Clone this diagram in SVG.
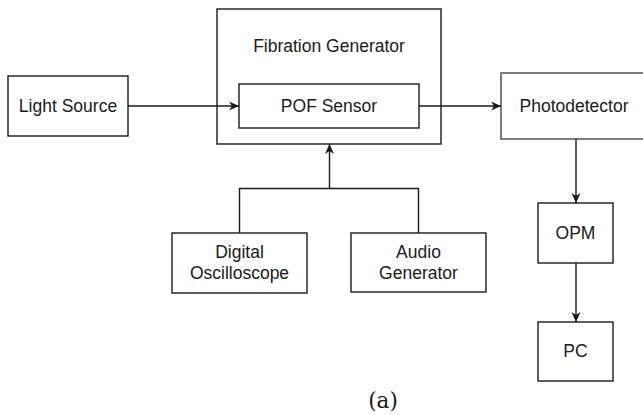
<svg xmlns="http://www.w3.org/2000/svg" width="643" height="415" viewBox="0 0 643 415">
  <style>
    .box { fill: #ffffff; stroke: #1a1a1a; stroke-width: 1.4; }
    .pd { fill: #ffffff; stroke: #6e6e6e; stroke-width: 1.8; }
    .lbl { font-family: "Liberation Sans", Arial, Helvetica, sans-serif; font-size: 17.5px; fill: #1a1a1a; text-anchor: middle; }
    .wire { fill: none; stroke: #1a1a1a; stroke-width: 1.4; }
    .cap { font-family: "DejaVu Serif", "Liberation Serif", serif; font-size: 21.5px; fill: #1a1a1a; text-anchor: middle; }
  </style>
  <defs>
    <marker id="arrow" markerUnits="userSpaceOnUse" markerWidth="12" markerHeight="10" refX="10" refY="4.5" orient="auto">
      <path d="M0,0 L10,4.5 L0,9 L3,4.5 z" fill="#1a1a1a"/>
    </marker>
  </defs>

  <rect width="643" height="415" fill="#ffffff"/>

  <g id="fibration-generator">
    <rect class="box" x="217" y="9" width="224" height="135"/>
    <text class="lbl" x="329" y="52">Fibration Generator</text>
  </g>

  <g id="light-source">
    <rect class="box" x="8" y="76" width="120" height="60"/>
    <text class="lbl" x="68" y="112">Light Source</text>
  </g>

  <g id="pof-sensor">
    <rect class="box" x="239" y="84" width="180" height="44"/>
    <text class="lbl" x="329" y="112">POF Sensor</text>
  </g>

  <g id="photodetector">
    <rect class="pd" x="501" y="73" width="150" height="66"/>
    <text class="lbl" x="574" y="112">Photodetector</text>
  </g>

  <g id="opm">
    <rect class="box" x="538" y="203" width="75" height="60"/>
    <text class="lbl" x="575.5" y="238.5">OPM</text>
  </g>

  <g id="pc">
    <rect class="box" x="538" y="322" width="75" height="59"/>
    <text class="lbl" x="575.5" y="357">PC</text>
  </g>

  <g id="digital-oscilloscope">
    <rect class="box" x="172" y="233" width="135" height="60"/>
    <text class="lbl" x="239.5" y="257.5">Digital</text>
    <text class="lbl" x="239.5" y="279">Oscilloscope</text>
  </g>

  <g id="audio-generator">
    <rect class="box" x="351" y="233" width="135" height="59"/>
    <text class="lbl" x="418.5" y="257.5">Audio</text>
    <text class="lbl" x="418.5" y="279">Generator</text>
  </g>

  <g id="connectors">
    <line class="wire" x1="128" y1="106" x2="239" y2="106" marker-end="url(#arrow)"/>
    <line class="wire" x1="419" y1="106" x2="501" y2="106" marker-end="url(#arrow)"/>
    <line class="wire" x1="576" y1="139" x2="576" y2="203" marker-end="url(#arrow)"/>
    <line class="wire" x1="576" y1="263" x2="576" y2="322" marker-end="url(#arrow)"/>
    <polyline class="wire" points="239.5,233 239.5,188.5 418.5,188.5 418.5,233"/>
    <line class="wire" x1="329.5" y1="188.5" x2="329.5" y2="144" marker-end="url(#arrow)"/>
  </g>

  <text class="cap" x="383" y="408">(a)</text>
</svg>
